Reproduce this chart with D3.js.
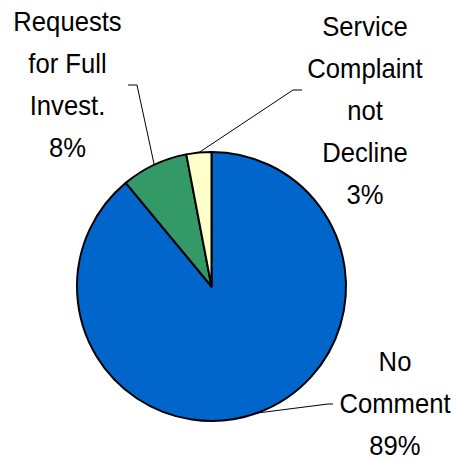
<!DOCTYPE html>
<html>
<head>
<meta charset="utf-8">
<script src="https://cdn.jsdelivr.net/npm/d3@7"></script>
<style>
  html, body { margin: 0; padding: 0; background: #fff; }
  svg { display: block; }
</style>
</head>
<body>
<svg id="chart" width="457" height="460"></svg>
<script>
// Categories and their shares (percent), in drawing order clockwise from 12 o'clock
const categories = ["No Comment", "Requests for Full Invest.", "Service Complaint not Decline"];
const values = [89, 8, 3];
// How each category name wraps in its label
const labelLines = [
  ["No", "Comment"],
  ["Requests", "for Full", "Invest."],
  ["Service", "Complaint", "not", "Decline"]
];
const colors = ["#0066CC", "#339966", "#FFFFCC"];

// Layout
const width = 457, height = 460;
const cx = 211.5, cy = 286.5, radius = 134.5;
const lineHeight = 42;
// label centre x, first baseline y, leader elbow and stub end
const labelLayout = [
  { x: 395, y: 371, elbow: [328, 404], stub: [333, 404] },
  { x: 67.5, y: 31, elbow: [137, 85], stub: [128, 85] },
  { x: 365, y: 36, elbow: [293, 90], stub: [302, 90] }
];

const svg = d3.select("#chart");
const g = svg.append("g").attr("transform", `translate(${cx},${cy})`);

const rows = categories.map((c, i) => ({ name: c, value: values[i], color: colors[i], lines: labelLines[i], layout: labelLayout[i] }));

const pie = d3.pie().sort(null).value(d => d.value).startAngle(0).endAngle(2 * Math.PI);
const arcs = pie(rows);

const arc = d3.arc().innerRadius(0).outerRadius(radius);
const edge = d3.arc().innerRadius(radius).outerRadius(radius);

g.selectAll("path.slice")
  .data(arcs)
  .join("path")
  .attr("class", "slice")
  .attr("d", arc)
  .attr("fill", d => d.data.color)
  .attr("stroke", "#000")
  .attr("stroke-width", 2)
  .attr("stroke-linejoin", "round");

// Leader lines from each label to the middle of its slice's rim
const line = d3.line();
svg.selectAll("path.leader")
  .data(arcs)
  .join("path")
  .attr("class", "leader")
  .attr("fill", "none")
  .attr("stroke", "#000")
  .attr("stroke-width", 1)
  .attr("d", d => {
    const [ex, ey] = edge.centroid(d);
    const L = d.data.layout;
    return line([L.stub, L.elbow, [cx + ex, cy + ey]]);
  });

// Labels: wrapped name plus percentage, in a slightly narrowed face
const labels = svg.selectAll("text.label")
  .data(arcs)
  .join("text")
  .attr("class", "label")
  .attr("text-anchor", "middle")
  .attr("font-family", "'Liberation Sans', Arial, sans-serif")
  .attr("font-size", 27)
  .attr("fill", "#000")
  .attr("transform", d => `translate(${d.data.layout.x},0) scale(0.95,1)`);

labels.each(function(d) {
  const L = d.data.layout;
  const all = d.data.lines.concat([`${d.data.value}%`]);
  d3.select(this).selectAll("tspan")
    .data(all)
    .join("tspan")
    .attr("x", 0)
    .attr("y", (t, i) => L.y + i * lineHeight)
    .text(t => t);
});
</script>
</body>
</html>
